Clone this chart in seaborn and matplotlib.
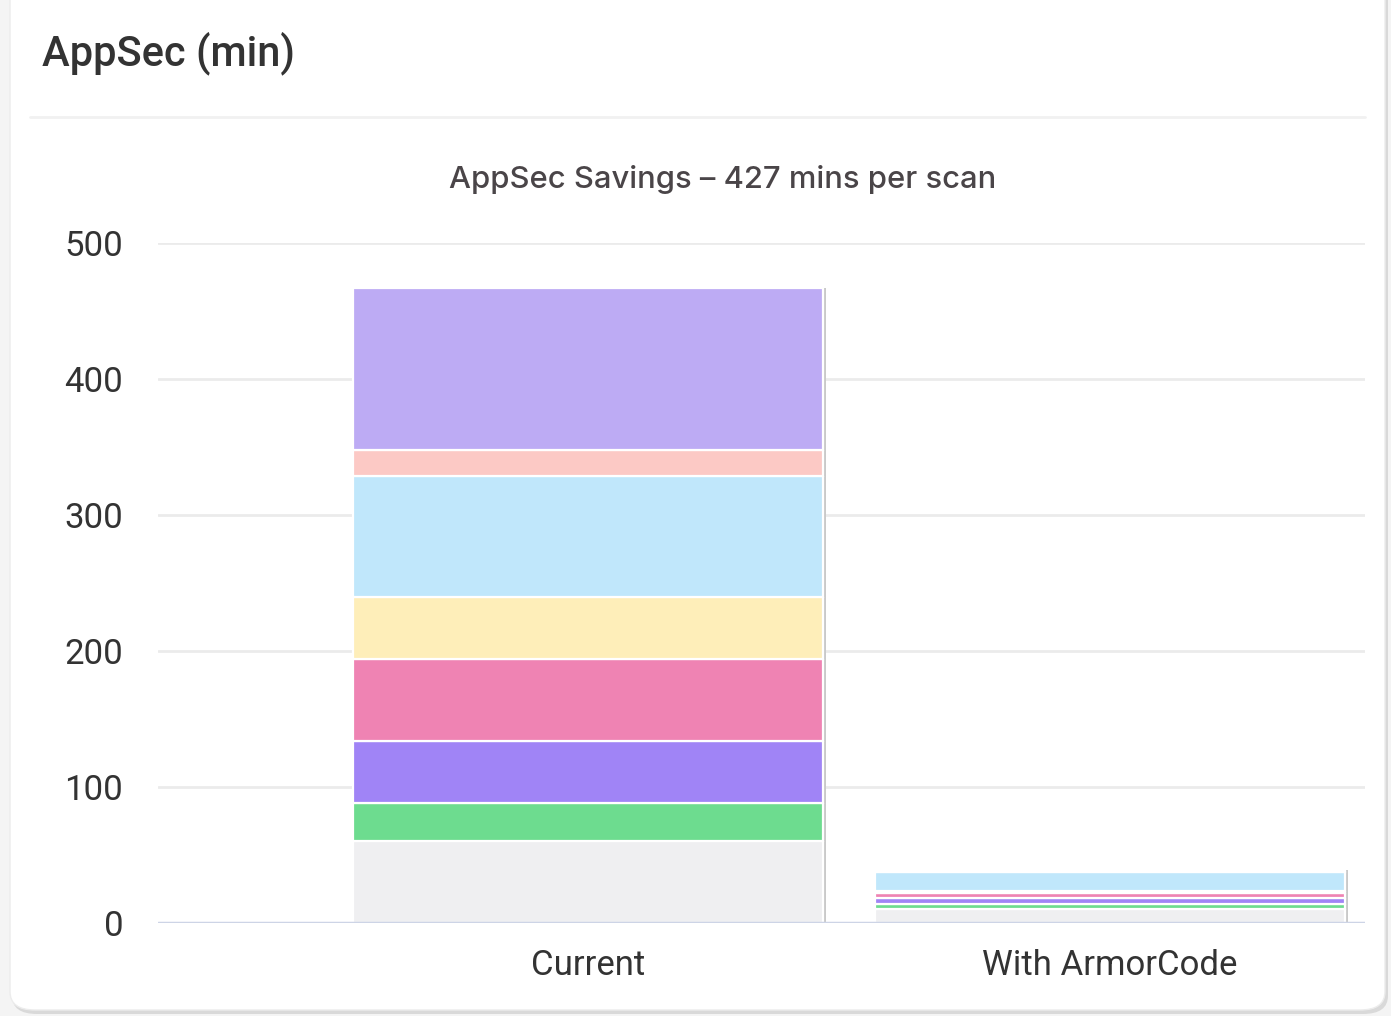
import numpy as np
import pandas as pd
import seaborn as sns
import matplotlib.pyplot as plt
from matplotlib.patches import FancyBboxPatch
from matplotlib import patheffects as pe

# data (minutes per scan)
stages = ['Current', 'With ArmorCode']
segments = ['Other', 'Step 1', 'Step 2', 'Step 3', 'Step 4', 'Step 5', 'Step 6', 'Step 7']
current = [60, 28, 46, 60, 46, 89, 19, 119]
with_ac = [10.3, 4, 4, 4, 1.5, 14, 0.5, 1]
colors = ['#efeff1', '#6ddc8f', '#a084f6', '#ef83b3', '#feeeb9', '#c0e7fb', '#fcc9c5', '#bdabf4']
y_ticks = [0, 100, 200, 300, 400, 500]

rows = []
for i, seg in enumerate(segments):
    rows.append({'stage': stages[0], 'segment': seg, 'minutes': current[i]})
    rows.append({'stage': stages[1], 'segment': seg, 'minutes': with_ac[i]})
df = pd.DataFrame(rows)
df['bottom'] = df.groupby('stage')['minutes'].cumsum() - df['minutes']

sns.set_theme(style='white')
plt.rcParams['font.family'] = ['Roboto', 'DejaVu Sans']

W, H = 1391, 1016
fig = plt.figure(figsize=(W / 100, H / 100), dpi=100)
fig.patch.set_facecolor('#f4f4f4')

def fx(px):
    return px / W

def fy(py):
    return 1 - py / H

# card with a soft shadow
shadow = FancyBboxPatch((fx(12), fy(1014)), fx(1376), fy(-30) - fy(1014),
                        boxstyle='round,pad=0,rounding_size=0.018',
                        transform=fig.transFigure, facecolor='#d9d9d9',
                        edgecolor='none', zorder=-3)
card = FancyBboxPatch((fx(10), fy(1010)), fx(1375), fy(-30) - fy(1010),
                      boxstyle='round,pad=0,rounding_size=0.018',
                      transform=fig.transFigure, facecolor='white',
                      edgecolor='#ececec', lw=1, zorder=-2)
fig.patches.extend([shadow, card])

fig.text(fx(42), fy(53), 'AppSec (min)', fontsize=30, color='#333333',
         va='center', ha='left', weight='medium', family=['Roboto', 'DejaVu Sans'])
fig.add_artist(plt.Line2D([fx(30), fx(1365)], [fy(117), fy(117)],
                          transform=fig.transFigure, color='#f1f1f1', lw=2, zorder=-1))
fig.text(fx(723), fy(180), 'AppSec Savings \u2013 427 mins per scan', fontsize=22.3,
         color='#4a4548', va='center', ha='center', weight='medium',
         family=['Inter', 'DejaVu Sans'])

ax = fig.add_axes([fx(158), fy(923), fx(1365) - fx(158), fy(243) - fy(923)])
ax.set_facecolor('none')
ax.set_zorder(2)

for seg, col in zip(segments, colors):
    sub = df[df['segment'] == seg]
    sns.barplot(data=sub, x='stage', y='minutes', order=stages, color=col,
                bottom=sub['bottom'].values, width=0.9, errorbar=None,
                saturation=1, edgecolor='white', linewidth=1.6, ax=ax,
                zorder=3,
                path_effects=[pe.SimplePatchShadow(offset=(2.5, 0), shadow_rgbFace='#c9c9c9', alpha=1),
                              pe.Normal()])

ax.set_xlim(-0.824, 1.489)
ax.set_ylim(0, 500)
ax.set_yticks(y_ticks)
ax.yaxis.grid(True, color='#ebebeb', lw=2, zorder=0)
ax.set_axisbelow(True)
ax.axhline(0, color='#cdd4e6', lw=2.5, zorder=4)
for s in ax.spines.values():
    s.set_visible(False)
ax.set_xlabel('')
ax.set_ylabel('')
ax.tick_params(axis='y', length=0, pad=25, labelsize=25, labelcolor='#333333')
ax.tick_params(axis='x', length=0, pad=19, labelsize=25, labelcolor='#333333')

fig.savefig('out.png', dpi=100, facecolor=fig.get_facecolor())
